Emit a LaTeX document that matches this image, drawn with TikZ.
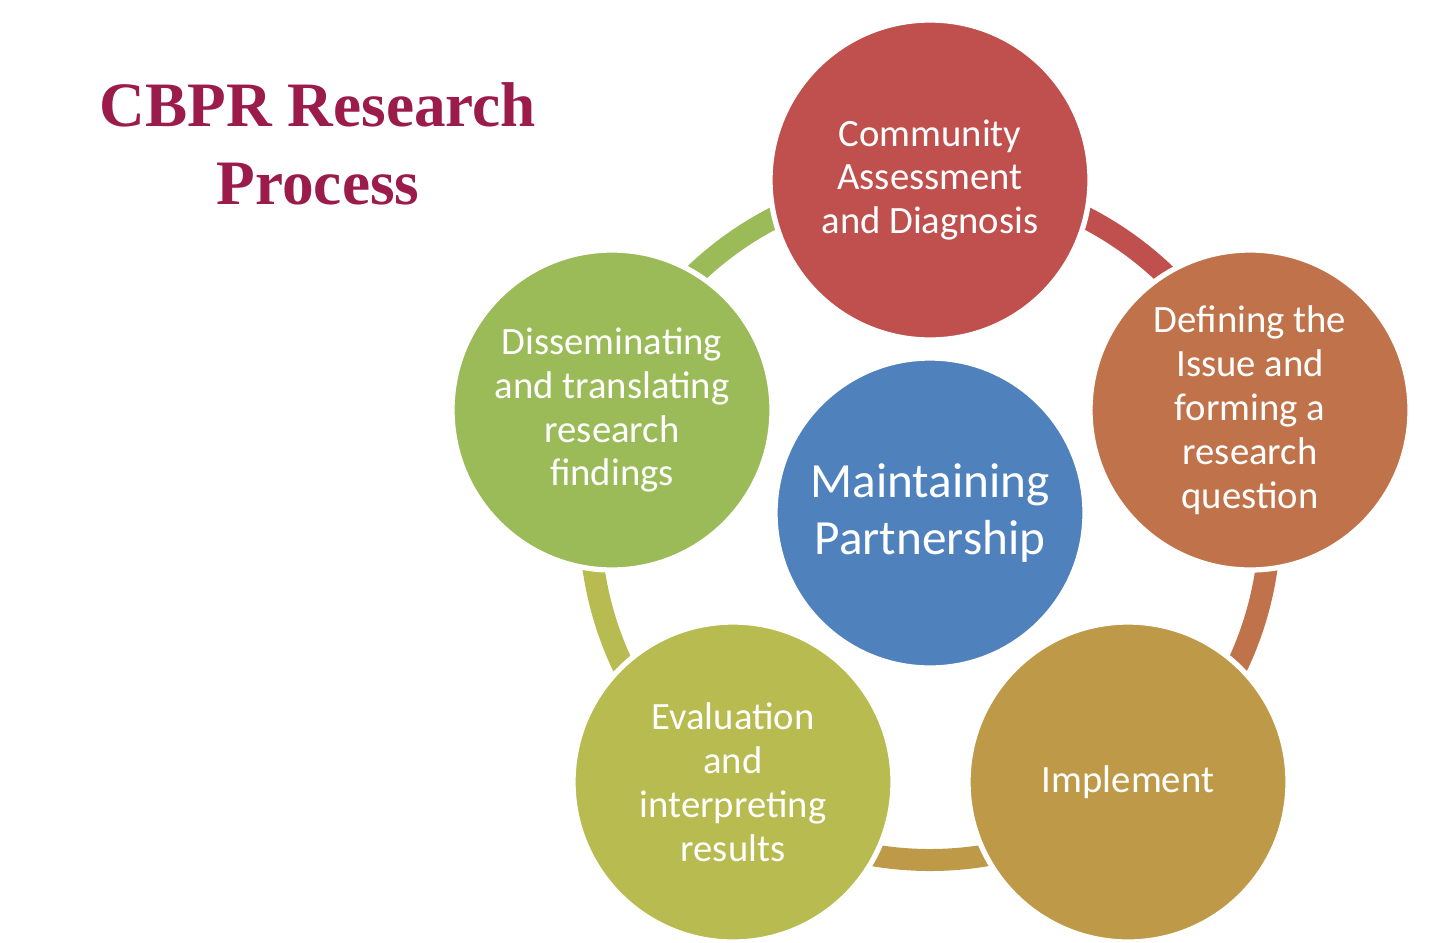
\documentclass[tikz,border=0pt]{standalone}
\usepackage{fontspec}
\setsansfont{Carlito}
\setmainfont{Liberation Serif}
\usetikzlibrary{positioning,calc}
\definecolor{cred}{HTML}{C0504D}
\definecolor{corange}{HTML}{C0734A}
\definecolor{ctan}{HTML}{BE9A48}
\definecolor{colive}{HTML}{B8BB50}
\definecolor{cgreen}{HTML}{9BBB59}
\definecolor{cblue}{HTML}{4F81BD}
\definecolor{ctitle}{HTML}{9B1B4B}
\tikzset{
  stage/.style={circle, minimum size=32mm, inner sep=0pt, text=white, align=center,
    font=\sffamily\fontsize{11}{12.5}\selectfont, draw=white, line width=1.5pt},
  ring/.style={line width=2.2mm, line cap=butt}
}
\begin{document}
\begin{tikzpicture}[x=0.1mm,y=0.1mm]
  \useasboundingbox (0,0) rectangle (1440,942);
  \coordinate (hub) at (930,422);
  % ring segments
  \foreach \a/\b/\c in {90/19/cred, 19/-53/corange, -53/-127/ctan, -127/-199/colive, -199/-270/cgreen}
    \draw[ring, \c] ($(hub)+(\a:340)$) arc[start angle=\a, end angle=\b, radius=34mm];
  \node[stage, fill=cred] (assess) at (930,762) {Community\\Assessment\\and Diagnosis};
  \node[stage, fill=corange] (define) at (1250,532) {Defining the\\Issue and\\forming a\\research\\question};
  \node[stage, fill=ctan] (implement) at (1128,160) {Implement};
  \node[stage, fill=colive] (evaluate) at (733,160) {Evaluation\\and\\interpreting\\results};
  \node[stage, fill=cgreen] (dissem) at (612,532) {Disseminating\\and translating\\research\\findings};
  \node[stage, fill=cblue, minimum size=31mm, font=\sffamily\fontsize{14}{16}\selectfont] (partner) at (930,429) {Maintaining\\Partnership};
  \node[text=ctitle, align=center, font=\rmfamily\bfseries\fontsize{18}{22}\selectfont] (title) at (318,798) {CBPR Research\\Process};
\end{tikzpicture}
\end{document}
